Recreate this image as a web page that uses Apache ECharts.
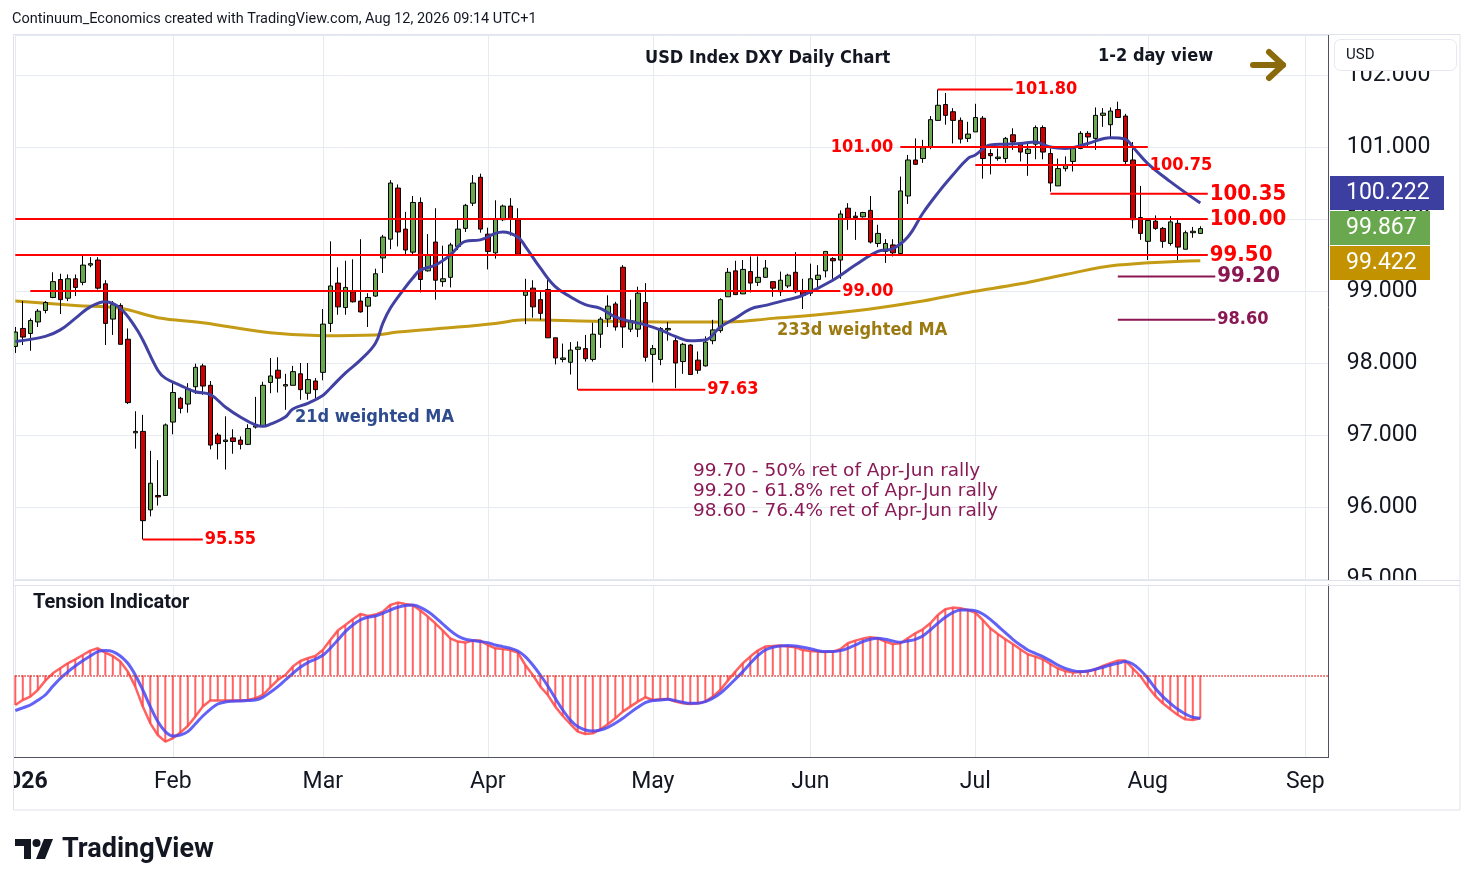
<!DOCTYPE html>
<html>
<head>
<meta charset="utf-8">
<title>USD Index DXY Daily Chart</title>
<script src="https://cdn.jsdelivr.net/npm/echarts@6/dist/echarts.min.js"></script>
<style>
html,body{margin:0;padding:0;background:#fff;}
#chart{width:1474px;height:887px;}
</style>
</head>
<body>
<div id="chart"></div>
<script>
// daily rows: open, high, low, close  (Jan 2 .. Aug 12, 2026)
var ohlc = [
[98.23,98.50,98.14,98.43],[98.48,98.86,98.25,98.36],[98.41,98.62,98.17,98.59],[98.57,98.75,98.50,98.72],
[98.73,98.86,98.69,98.84],[98.91,99.26,98.90,99.13],[99.16,99.24,98.68,98.88],[98.90,99.23,98.86,99.17],
[99.17,99.23,98.93,99.05],[99.12,99.50,99.08,99.36],[99.36,99.47,99.33,99.38],[99.43,99.47,99.02,99.04],
[99.10,99.15,98.25,98.55],[98.61,98.86,98.39,98.81],[98.80,98.83,98.26,98.26],[98.33,98.48,97.43,97.45],
[97.03,97.33,96.81,97.05],[97.05,97.28,95.55,95.81],[95.96,96.78,95.87,96.33],[96.16,96.65,96.02,96.14],
[96.16,97.16,96.16,97.14],[97.18,97.74,97.01,97.59],[97.51,97.53,97.30,97.37],[97.43,97.72,97.31,97.64],
[97.67,97.99,97.57,97.94],[97.96,97.99,97.56,97.68],[97.69,97.75,96.80,96.86],[97.00,97.03,96.66,96.88],
[96.91,97.26,96.52,96.93],[96.96,97.08,96.74,96.91],[96.93,96.98,96.80,96.87],[96.87,97.15,96.86,97.09],
[97.11,97.53,97.09,97.13],[97.13,97.74,97.11,97.69],[97.73,98.07,97.58,97.82],[97.90,98.08,97.59,97.79],
[97.68,97.85,97.35,97.70],[97.69,97.96,97.69,97.88],[97.85,98.00,97.49,97.63],[97.58,98.00,97.49,97.77],
[97.75,97.79,97.51,97.63],[97.87,98.75,97.76,98.54],[98.55,99.69,98.43,99.07],[99.11,99.33,98.67,98.78],
[98.77,99.42,98.67,99.05],[98.99,99.44,98.84,98.85],[98.86,99.72,98.70,98.71],[98.79,98.97,98.50,98.91],
[98.93,99.31,98.92,99.24],[99.46,99.78,99.25,99.75],[99.72,100.54,99.58,100.50],[100.43,100.48,99.62,99.82],
[99.86,100.10,99.51,99.57],[99.54,100.32,99.50,100.23],[100.23,100.30,98.98,99.16],[99.28,99.79,99.27,99.50],
[99.68,100.15,98.88,99.15],[99.13,99.63,99.06,99.17],[99.19,99.67,99.05,99.64],[99.62,99.99,99.57,99.86],
[99.87,100.21,99.82,100.19],[100.22,100.61,100.18,100.50],[100.58,100.63,99.81,99.86],[99.79,99.88,99.30,99.55],
[99.53,100.26,99.45,100.00],[99.99,100.20,99.97,100.18],[100.18,100.29,99.77,100.00],[99.99,100.15,99.51,99.51],
[98.94,99.17,98.54,98.99],[99.04,99.15,98.63,98.78],[98.88,98.99,98.60,98.69],[99.02,99.17,98.35,98.35],
[98.35,98.35,97.98,98.07],[98.05,98.27,98.01,98.07],[98.01,98.29,97.84,98.18],[98.19,98.30,97.63,98.22],
[98.20,98.39,98.02,98.06],[98.05,98.56,98.02,98.40],[98.40,98.64,98.21,98.61],[98.61,98.94,98.50,98.79],
[98.82,98.85,98.45,98.50],[99.33,99.36,98.21,98.50],[98.47,98.88,98.43,98.59],[98.47,99.06,98.36,98.97],
[98.84,99.11,98.02,98.08],[98.12,98.25,97.73,98.20],[98.05,98.50,97.97,98.48],[98.46,98.57,98.31,98.48],
[98.31,98.36,97.65,98.00],[98.02,98.28,97.85,98.26],[98.25,98.26,97.84,97.84],[98.04,98.16,97.85,97.90],
[97.96,98.37,97.95,98.29],[98.31,98.60,98.26,98.46],[98.45,98.90,98.42,98.88],[98.92,99.32,98.92,99.26],
[99.28,99.42,98.95,98.95],[98.96,99.43,98.96,99.30],[99.27,99.48,98.98,99.11],[99.12,99.48,99.07,99.19],
[99.19,99.43,99.19,99.32],[99.13,99.13,98.92,99.04],[98.99,99.27,98.93,99.15],[99.07,99.24,99.04,99.22],
[99.26,99.54,98.97,98.99],[99.00,99.17,98.75,98.94],[98.97,99.38,98.93,99.17],[99.16,99.36,99.05,99.22],
[99.28,99.55,99.19,99.55],[99.45,99.47,99.17,99.42],[99.43,100.12,99.17,100.07],[100.15,100.22,99.85,100.01],
[100.04,100.10,99.71,100.02],[100.03,100.10,100.02,100.09],[100.12,100.32,99.66,99.68],[99.66,99.92,99.61,99.80],
[99.55,99.72,99.39,99.66],[99.64,99.72,99.48,99.53],[99.52,100.59,99.52,100.39],[100.32,100.89,100.21,100.82],
[100.82,101.12,100.75,100.76],[100.84,101.10,100.78,100.99],[101.00,101.43,100.97,101.38],[101.37,101.80,101.37,101.58],
[101.59,101.75,101.31,101.44],[101.49,101.54,101.05,101.37],[101.37,101.41,101.05,101.11],[101.12,101.35,101.07,101.18],
[101.21,101.60,101.21,101.41],[101.40,101.43,100.56,100.84],[100.91,100.97,100.62,100.88],[100.84,100.98,100.81,100.86],
[100.84,101.14,100.78,101.12],[101.17,101.26,100.96,101.07],[101.04,101.07,100.80,100.93],[100.91,101.07,100.60,100.97],
[101.04,101.30,100.83,101.27],[101.27,101.30,100.83,100.93],[100.91,100.98,100.38,100.50],[100.46,100.84,100.46,100.70],
[100.70,100.87,100.66,100.75],[100.80,101.00,100.66,100.98],[100.98,101.22,100.97,101.19],[101.19,101.22,101.00,101.14],
[101.12,101.55,100.96,101.44],[101.44,101.54,101.28,101.47],[101.31,101.55,101.14,101.50],[101.52,101.63,101.41,101.41],
[101.43,101.46,100.76,100.80],[100.82,101.07,99.87,99.99],[100.02,100.46,99.71,99.80],[99.69,100.01,99.43,99.98],
[99.97,100.05,99.85,99.87],[99.87,99.89,99.60,99.69],[99.66,100.04,99.63,99.96],[99.94,99.99,99.43,99.61],
[99.58,99.84,99.58,99.81],[99.81,99.89,99.74,99.83],[99.80,99.90,99.80,99.867]
];

// moving averages: [day index, value]
var wma21 = [[0,98.30],[4,98.37],[6,98.46],[8,98.62],[10,98.78],[12,98.85],[14,98.76],[16,98.50],[17,98.32],
  [19,97.90],[20,97.79],[22,97.69],[24,97.60],[26,97.56],[28,97.39],[30,97.25],[32,97.14],[33,97.12],[34,97.15],
  [36,97.25],[37,97.36],[39,97.44],[41,97.55],[42,97.65],[44,97.86],[46,98.04],[48,98.27],[49,98.55],[50,98.76],
  [52,99.05],[53,99.18],[54,99.29],[56,99.36],[58,99.50],[60,99.69],[62,99.71],[64,99.80],[65,99.82],[67,99.75],
  [68,99.62],[70,99.32],[72,99.06],[74,98.92],[76,98.81],[78,98.76],[80,98.64],[82,98.58],[84,98.53],[86,98.46],
  [88,98.37],[90,98.31],[92,98.32],[94,98.50],[96,98.62],[98,98.75],[100,98.80],[103,98.88],[105,98.94],[109,99.15],
  [112,99.36],[115,99.55],[117,99.59],[119,99.75],[121,100.08],[123,100.36],[125,100.61],[127,100.84],[128,100.89],
  [130,101.03],[132,101.04],[134,101.05],[136,101.07],[138,101.00],[140,100.98],[143,101.05],[146,101.13],[148,101.11],
  [149,101.00],[151,100.77],[154,100.52],[158,100.222]];
var wma233 = [[0,98.86],[8,98.80],[14,98.76],[19,98.63],[25,98.56],[34,98.42],[41,98.38],[48,98.39],[51,98.43],
  [59,98.50],[64,98.55],[68,98.60],[77,98.58],[89,98.57],[95,98.57],[101,98.62],[108,98.68],[114,98.75],[121,98.86],
  [127,98.98],[134,99.10],[140,99.23],[147,99.36],[158,99.422]];

// tension indicator, one value per day
var tensionFast = [-2.97,-2.47,-2.13,-1.47,-0.53,0.2,0.7,1.2,1.6,2.03,2.47,2.7,2.27,1.93,1.37,0.37,-1.13,-3.13,-4.8,-5.97,
  -6.63,-6.3,-5.73,-5.07,-4.13,-3.13,-2.53,-2.53,-2.53,-2.53,-2.53,-2.47,-2.3,-1.97,-1.2,-0.47,0.03,0.87,1.43,1.7,
  1.93,2.53,3.53,4.47,5.03,5.6,6.13,5.93,6.07,6.37,7.03,7.27,7.13,7.0,6.47,5.87,5.2,4.47,3.7,3.37,
  3.27,3.47,3.47,3.03,2.7,2.63,2.53,2.27,1.03,0.03,-1.13,-1.97,-3.13,-4.07,-4.87,-5.63,-5.87,-5.8,-5.4,-4.9,
  -4.3,-3.63,-3.13,-2.63,-2.2,-2.47,-2.4,-2.37,-2.63,-2.8,-2.87,-2.8,-2.63,-2.13,-1.47,-0.53,0.37,1.2,1.87,2.47,
  2.87,2.93,2.97,2.87,2.8,2.53,2.42,2.37,2.33,2.37,2.6,3.2,3.47,3.67,3.8,3.7,3.37,3.13,3.2,3.7,
  4.2,4.6,5.2,6.03,6.6,6.77,6.7,6.53,6.27,5.53,4.7,4.13,3.6,3.13,2.6,2.1,1.87,1.6,1.13,0.7,
  0.43,0.27,0.33,0.4,0.6,0.93,1.2,1.47,1.47,0.7,-0.07,-1.13,-2.07,-2.8,-3.4,-3.97,-4.4,-4.47,-4.3];
var tensionSlow = [-3.53,-3.25,-2.97,-2.5,-1.97,-1.1,-0.3,0.35,0.93,1.45,1.93,2.37,2.47,2.37,1.93,1.2,0.03,-1.47,-3.13,-4.63,
  -5.63,-6.07,-5.97,-5.63,-4.87,-4.07,-3.4,-2.87,-2.67,-2.6,-2.57,-2.53,-2.47,-2.2,-1.7,-1.13,-0.47,0.2,0.8,1.27,
  1.6,2.0,2.7,3.53,4.37,5.03,5.53,5.8,5.93,6.2,6.53,6.8,6.97,7.03,6.8,6.37,5.8,5.13,4.47,3.93,
  3.6,3.47,3.37,3.27,3.03,2.87,2.7,2.43,1.87,1.03,0.03,-1.07,-2.3,-3.47,-4.47,-5.13,-5.47,-5.57,-5.47,-5.2,
  -4.8,-4.3,-3.73,-3.2,-2.73,-2.53,-2.47,-2.4,-2.53,-2.7,-2.8,-2.8,-2.63,-2.3,-1.8,-1.13,-0.4,0.37,1.2,1.97,
  2.53,2.8,2.93,2.97,2.93,2.8,2.65,2.47,2.37,2.37,2.47,2.7,3.03,3.37,3.6,3.7,3.6,3.43,3.3,3.43,
  3.6,3.93,4.53,5.2,5.8,6.27,6.53,6.53,6.47,6.13,5.6,4.93,4.27,3.6,3.03,2.53,2.2,1.87,1.47,1.03,
  0.7,0.47,0.37,0.43,0.6,0.8,1.03,1.2,1.37,1.13,0.53,-0.3,-1.3,-2.13,-2.8,-3.4,-3.87,-4.2,-4.3];

// horizontal levels: value, first and last day index
var levelValues = [101.80, 101.00, 100.75, 100.35, 100.00, 99.50, 99.20, 98.60, 99.00, 97.63, 95.55];
var levelFrom   = [123, 118, 128, 138, 0, 0, 147, 147, 2, 75, 17];
var levelTo     = [133, 151, 151, 159, 159, 159, 160, 160, 110, 92, 25];
var levelText   = ['101.80','101.00','100.75','100.35','100.00','99.50','99.20','98.60','99.00','97.63','95.55'];

// first trading day of each month -> axis label
var monthTicks = {0:'2026', 21:'Feb', 41:'Mar', 63:'Apr', 85:'May', 106:'Jun', 128:'Jul', 151:'Aug', 172:'Sep'};

var notes = ['99.70 - 50% ret of Apr-Jun rally', '99.20 - 61.8% ret of Apr-Jun rally', '98.60 - 76.4% ret of Apr-Jun rally'];

// trading days (weekdays) for the time axis
var days = [];
var dt = new Date(Date.UTC(2026, 0, 2));
while (days.length < 176) {
  var wd = dt.getUTCDay();
  if (wd !== 0 && wd !== 6) days.push(dt.toISOString().slice(0, 10));
  dt.setUTCDate(dt.getUTCDate() + 1);
}

var COND = '"DejaVu Sans Condensed","DejaVu Sans",sans-serif';
var UI = 'Roboto,"Noto Sans",sans-serif';
var GRID = '#e6ebf2';

function isMonth(i) { return monthTicks.hasOwnProperty(i); }

var chart = echarts.init(document.getElementById('chart'));

var series = [
  {
    type: 'candlestick', xAxisIndex: 0, yAxisIndex: 0, barWidth: 5, clip: false, z: 3,
    data: ohlc.map(function (r) { return [r[0], r[3], r[2], r[1]]; }),
    itemStyle: { color: '#6aa84f', color0: '#cc0000', borderColor: '#000', borderColor0: '#000', borderWidth: 1 }
  },
  {
    type: 'line', xAxisIndex: 0, yAxisIndex: 0, data: wma233, smooth: 0.4, symbol: 'none', z: 2,
    lineStyle: { color: '#c49b14', width: 3 }
  },
  {
    type: 'line', xAxisIndex: 0, yAxisIndex: 0, data: wma21, smooth: 0.4, symbol: 'none', z: 4,
    lineStyle: { color: '#4141a3', width: 3 }
  },
  {
    type: 'bar', xAxisIndex: 1, yAxisIndex: 1, data: tensionFast, barWidth: 2,
    itemStyle: { color: 'rgba(255,60,60,0.8)' },
    markLine: {
      silent: true, symbol: 'none', label: { show: false },
      lineStyle: { type: 'dotted', color: '#d83030', width: 1.5 },
      data: [{ yAxis: 0 }]
    }
  },
  {
    type: 'line', xAxisIndex: 1, yAxisIndex: 1, data: tensionFast, symbol: 'none',
    lineStyle: { color: 'rgba(255,70,70,0.85)', width: 2.5 }
  },
  {
    type: 'line', xAxisIndex: 1, yAxisIndex: 1, data: tensionSlow, symbol: 'none', smooth: 0.3,
    lineStyle: { color: 'rgba(70,70,245,0.85)', width: 3 }
  }
];

levelValues.forEach(function (v, k) {
  var big = (k >= 3 && k <= 6);
  var maroon = (k === 6 || k === 7);
  var left = (k === 1);
  var col = maroon ? '#8a1652' : '#ff0000';
  var lab = {
    show: true, position: left ? 'left' : 'right', distance: left ? 7 : 2,
    formatter: levelText[k], color: col, fontSize: big ? 22 : 18, fontWeight: 'bold', fontFamily: COND
  };
  var a = [levelFrom[k], v], b = [levelTo[k], v];
  var data = left ? [{ value: a, label: lab }, b] : [a, { value: b, label: lab }];
  series.push({
    type: 'line', xAxisIndex: 0, yAxisIndex: 0, data: data, symbol: 'circle', symbolSize: 0,
    showSymbol: true, silent: true, z: 5,
    lineStyle: { color: col, width: 2 }, itemStyle: { color: col }
  });
});

var gridLeft = 15.3, gridRight = 146.2;

var option = {
  animation: false,
  backgroundColor: '#ffffff',
  textStyle: { fontFamily: UI },
  grid: [
    { left: gridLeft, right: gridRight, top: 35, height: 545, outerBoundsMode: 'none', containLabel: false },
    { left: gridLeft, right: gridRight, top: 585, height: 172, outerBoundsMode: 'none', containLabel: false }
  ],
  xAxis: [
    {
      type: 'category', gridIndex: 0, data: days, boundaryGap: false,
      axisLine: { show: false }, axisTick: { show: false }, axisLabel: { show: false },
      splitLine: { show: true, interval: function (i) { return isMonth(i); }, lineStyle: { color: GRID, width: 1 } }
    },
    {
      type: 'category', gridIndex: 1, data: days, boundaryGap: false,
      axisLine: { show: true, onZero: false, lineStyle: { color: '#50535e', width: 1 } },
      axisTick: { show: false },
      splitLine: { show: true, interval: function (i) { return isMonth(i); }, lineStyle: { color: GRID, width: 1 } },
      axisLabel: {
        interval: function (i) { return isMonth(i); },
        formatter: function (val, i) { return i === 0 ? '{y|' + monthTicks[i] + '}' : monthTicks[i]; },
        color: '#131722', fontSize: 23, fontFamily: UI, margin: 14,
        rich: { y: { fontWeight: 'bold', fontSize: 23, fontFamily: UI, color: '#131722', padding: [0, 0, 0, 12] } }
      }
    }
  ],
  yAxis: [
    {
      type: 'value', gridIndex: 0, position: 'right', min: 94.986, max: 102.556,
      splitNumber: 8, minInterval: 1, maxInterval: 1,
      axisLine: { show: true, lineStyle: { color: '#50535e', width: 1 } },
      axisTick: { show: false },
      splitLine: { show: true, lineStyle: { color: GRID, width: 1 } },
      axisLabel: {
        show: true, margin: 19, color: '#131722', fontSize: 23, fontFamily: UI,
        showMinLabel: false, showMaxLabel: false,
        formatter: function (v) { return v.toFixed(3); }
      }
    },
    {
      type: 'value', gridIndex: 1, position: 'right', min: -8.17, max: 9.03,
      axisLine: { show: true, lineStyle: { color: '#50535e', width: 1 } },
      axisTick: { show: false }, axisLabel: { show: false }, splitLine: { show: false }
    }
  ],
  series: series
};

chart.setOption(option);

// overlay texts, frame and price badges
function txt(x, y, s, font, color, align) {
  return { type: 'text', z: 100, silent: true,
    style: { x: x, y: y, text: s, font: font, fill: color, align: align || 'left', verticalAlign: 'middle',
             textAlign: align || 'left', textVerticalAlign: 'middle' } };
}
function box(x, y, w, h, fill, stroke, r) {
  return { type: 'rect', z: 90, silent: true, shape: { x: x, y: y, width: w, height: h, r: r || 0 },
    style: { fill: fill, stroke: stroke || null, lineWidth: 1 } };
}
function seg(x1, y1, x2, y2, color, w) {
  return { type: 'line', z: 95, silent: true, shape: { x1: x1, y1: y1, x2: x2, y2: y2 },
    style: { stroke: color, lineWidth: w || 1 } };
}

var last = ohlc[ohlc.length - 1][3];
var yLast = chart.convertToPixel({ yAxisIndex: 0 }, last);
var bh = 35;

var g = [
  // hide price-scale overflow below the main panel and left of the frame
  box(1330, 581, 130, 176, '#ffffff'),
  box(0, 757, 13, 54, '#ffffff'),
  // frame and panel separators
  { type: 'rect', z: 96, silent: true, shape: { x: 13.5, y: 34.5, width: 1446.5, height: 775.5 },
    style: { fill: null, stroke: '#e0e3eb', lineWidth: 1 } },
  seg(13, 580.5, 1460, 580.5, '#e0e3eb'),
  seg(13, 585.5, 1460, 585.5, '#e0e3eb'),
  seg(13, 757.5, 1329, 757.5, '#50535e'),
  // USD box
  box(1334.5, 39.5, 122, 31, '#ffffff', '#e6e8ee', 6),
  txt(1346, 55, 'USD', '15px ' + UI, '#131722'),
  // badges: 21d WMA, last close, 233d WMA
  box(1330, yLast - bh / 2 - bh, 114, bh - 1, '#3d3fa0'),
  txt(1346, yLast - bh, wma21[wma21.length - 1][1].toFixed(3), '23px ' + UI, '#ffffff'),
  box(1330, yLast - bh / 2, 100, bh - 1, '#6aa84f'),
  txt(1346, yLast, last.toFixed(3), '23px ' + UI, '#ffffff'),
  box(1330, yLast + bh / 2, 100, bh - 1, '#c39200'),
  txt(1346, yLast + bh, wma233[wma233.length - 1][1].toFixed(3), '23px ' + UI, '#ffffff'),
  // header and titles
  txt(12, 19, 'Continuum_Economics created with TradingView.com, Aug 12, 2026 09:14 UTC+1', '14.5px ' + UI, '#131722'),
  txt(645, 58, 'USD Index DXY Daily Chart', 'bold 18px ' + COND, '#131722'),
  txt(1098, 56, '1-2 day view', 'bold 18px ' + COND, '#131722'),
  { type: 'polyline', z: 100, silent: true, shape: { points: [[1253, 65], [1283, 65]] },
    style: { stroke: '#8b6a0c', lineWidth: 6, lineCap: 'round', fill: null } },
  { type: 'polyline', z: 100, silent: true, shape: { points: [[1269, 52], [1283, 65], [1269, 78]] },
    style: { stroke: '#8b6a0c', lineWidth: 6, lineCap: 'round', lineJoin: 'round', fill: null } },
  txt(295, 417, '21d weighted MA', 'bold 18px ' + COND, '#2d4b8e'),
  txt(777, 330, '233d weighted MA', 'bold 18px ' + COND, '#9c7a12'),
  txt(33, 603, 'Tension Indicator', 'bold 20px ' + UI, '#131722'),
  // TradingView logo
  box(15, 839, 16, 7, '#131722'),
  box(24, 839, 7, 20, '#131722'),
  { type: 'circle', z: 100, silent: true, shape: { cx: 36.5, cy: 843, r: 4 }, style: { fill: '#131722' } },
  { type: 'polygon', z: 100, silent: true, shape: { points: [[44, 839], [53, 839], [45, 859], [36, 859]] },
    style: { fill: '#131722' } },
  txt(62, 850, 'TradingView', 'bold 27px ' + UI, '#131722')
];
notes.forEach(function (s, k) {
  g.push(txt(693, 471 + k * 20, s, '18.5px "DejaVu Sans",sans-serif', '#8a1a56'));
});

chart.setOption({ graphic: g });
</script>
</body>
</html>
